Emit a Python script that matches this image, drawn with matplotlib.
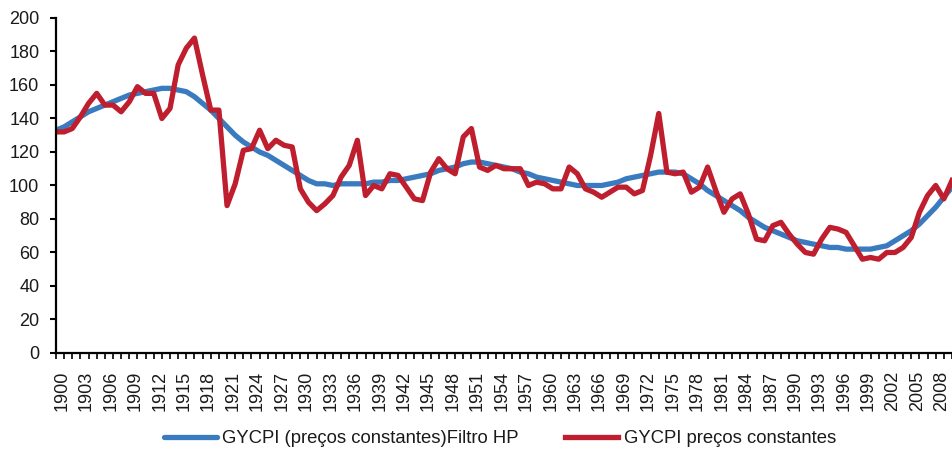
import numpy as np
import matplotlib.pyplot as plt
import matplotlib.transforms as mtransforms

plt.rcParams['font.family'] = ['Liberation Sans', 'DejaVu Sans']

years = list(range(1900, 2011))

# GYCPI preços constantes
gycpi = [
    132, 132, 134, 141, 149, 155, 148, 148, 144, 150,   # 1900-1909
    159, 155, 155, 140, 146, 172, 182, 188, 166, 145,   # 1910-1919
    145, 88, 101, 121, 122, 133, 122, 127, 124, 123,    # 1920-1929
    98, 90, 85, 89, 94, 105, 112, 127, 94, 100,         # 1930-1939
    98, 107, 106, 99, 92, 91, 108, 116, 110, 107,       # 1940-1949
    129, 134, 111, 109, 112, 110, 110, 110, 100, 102,   # 1950-1959
    101, 98, 98, 111, 107, 98, 96, 93, 96, 99,          # 1960-1969
    99, 95, 97, 118, 143, 108, 107, 108, 96, 99,        # 1970-1979
    111, 97, 84, 92, 95, 83, 68, 67, 76, 78,            # 1980-1989
    71, 65, 60, 59, 68, 75, 74, 72, 64, 56,             # 1990-1999
    57, 56, 60, 60, 63, 69, 84, 94, 100, 92,            # 2000-2009
    103,                                                # 2010
]

# GYCPI (preços constantes) Filtro HP
gycpi_hp = [
    133, 135, 138, 141, 144, 146, 148, 150, 152, 154,
    155, 156, 157, 158, 158, 157, 156, 153, 149, 145,
    140, 135, 130, 126, 123, 120, 118, 115, 112, 109,
    106, 103, 101, 101, 100, 101, 101, 101, 101, 102,
    102, 103, 103, 104, 105, 106, 107, 109, 110, 111,
    113, 114, 114, 113, 112, 111, 110, 108, 107, 105,
    104, 103, 102, 101, 100, 100, 100, 100, 101, 102,
    104, 105, 106, 107, 108, 108, 108, 107, 104, 101,
    97, 94, 91, 88, 85, 81, 78, 75, 73, 71,
    69, 67, 66, 65, 64, 63, 63, 62, 62, 62,
    62, 63, 64, 67, 70, 73, 77, 82, 87, 93,
    99,
]

label_years = list(range(1900, 2009, 3))

fig = plt.figure(figsize=(9.52, 4.53), dpi=100)
ax = fig.add_axes([0.0588, 0.2208, 0.9412, 0.7395])

ax.plot(years, gycpi_hp, color='#3a7bbf', lw=3.8, solid_capstyle='round',
        solid_joinstyle='round', label='GYCPI (preços constantes)Filtro HP')
ax.plot(years, gycpi, color='#be1e2d', lw=3.8, solid_joinstyle='round',
        label='GYCPI preços constantes')

ax.set_xlim(1900, 2010)
ax.set_ylim(0, 200)
ax.set_yticks(np.arange(0, 201, 20))
ax.set_xticks(years, minor=True)
ax.set_xticks(label_years)
ax.set_xticklabels([str(y) for y in label_years], rotation=90)

for side in ['top', 'right']:
    ax.spines[side].set_visible(False)
for side in ['left', 'bottom']:
    ax.spines[side].set_linewidth(1.6)
    ax.spines[side].set_color('black')

ax.tick_params(axis='y', direction='out', length=4, width=1.5, labelsize=13,
               pad=8, labelcolor='#1a1a1a')
ax.tick_params(axis='x', which='both', direction='out', length=4, width=1.2,
               labelsize=13, pad=9, labelcolor='#1a1a1a')

# Excel puts the rotated labels a little to the right of the tick
shift = mtransforms.ScaledTranslation(6 / 100, 0, fig.dpi_scale_trans)
for lab in ax.get_xticklabels():
    lab.set_transform(lab.get_transform() + shift)

fig.legend(loc='center', bbox_to_anchor=(0.525, 0.031), ncol=2, frameon=False,
           fontsize=13.3, handlelength=2.87, handletextpad=0.3,
           columnspacing=2.5, labelcolor='#1a1a1a')

fig.savefig('out.png', dpi=100)
